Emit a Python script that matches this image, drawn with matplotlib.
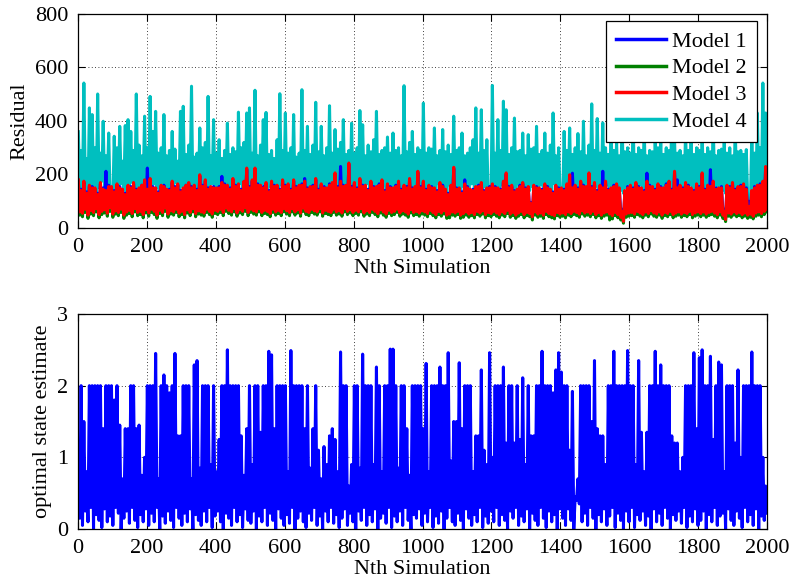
import numpy as np
import matplotlib
matplotlib.use("Agg")
import matplotlib.pyplot as plt

# ---------------- data ----------------
# Each series is stored as its upper samples ("_a") and the interleaved
# lower samples ("_b"); both were estimated from the picture.
model4_a = [
    360, 290, 542, 260, 449, 424, 300, 501, 280, 399, 270, 355, 100, 343, 300, 380, 250, 383, 405, 361, 290, 501, 310, 270, 418,
    300, 492, 361, 436, 280, 300, 424, 270, 290, 361, 295, 250, 436, 455, 275, 310, 530, 265, 280, 374, 300, 320, 492, 270, 405,
    280, 330, 260, 290, 392, 275, 300, 285, 433, 300, 320, 430, 449, 280, 515, 270, 310, 405, 432, 275, 290, 260, 330, 502, 290,
    430, 280, 300, 424, 265, 280, 517, 290, 380, 275, 310, 470, 285, 380, 270, 300, 457, 280, 368, 295, 320, 405, 275, 290, 392,
    280, 300, 439, 386, 270, 310, 285, 330, 436, 275, 290, 300, 340, 280, 355, 290, 300, 270, 532, 285, 320, 361, 275, 300, 290,
    467, 280, 300, 295, 374, 270, 290, 368, 285, 310, 275, 418, 290, 300, 355, 270, 280, 300, 330, 449, 280, 442, 290, 330, 130,
    533, 280, 405, 290, 474, 442, 275, 300, 411, 285, 290, 355, 270, 349, 295, 300, 380, 275, 290, 355, 280, 310, 430, 270, 300,
    100, 361, 290, 374, 275, 300, 353, 285, 399, 270, 310, 464, 290, 409, 280, 393, 300, 275, 380, 290, 320, 270, 410, 285, 300,
    280, 410, 275, 300, 290, 380, 270, 290, 285, 318, 300, 324, 275, 300, 290, 420, 330, 280, 290, 270, 360, 290, 318, 275, 300,
    290, 350, 275, 300, 285, 400, 270, 290, 295, 330, 280, 300, 270, 380, 285, 290, 275, 293, 95, 361, 280, 430, 300, 542, 430,
]
model4_b = [
    150, 130, 170, 110, 140, 160, 125, 150, 175, 135, 160, 120, 100, 145, 130, 165, 140, 120, 155, 170, 135, 150, 125, 160, 140,
    145, 130, 165, 150, 120, 140, 160, 135, 150, 125, 170, 140, 155, 130, 145, 160, 120, 150, 135, 160, 140, 125, 155, 165, 135,
    150, 125, 140, 160, 135, 155, 120, 145, 165, 130, 150, 140, 125, 160, 135, 145, 165, 130, 140, 155, 125, 150, 135, 160, 140,
    130, 155, 140, 120, 150, 165, 135, 145, 125, 160, 140, 150, 130, 165, 135, 120, 155, 140, 145, 125, 160, 135, 150, 130, 145,
    155, 135, 125, 150, 165, 140, 130, 155, 145, 120, 160, 135, 150, 125, 140, 165, 130, 145, 155, 135, 125, 150, 140, 160, 130,
    140, 155, 125, 150, 135, 165, 130, 145, 120, 160, 140, 150, 125, 135, 155, 130, 145, 165, 135, 150, 125, 140, 155, 110, 100,
    135, 150, 125, 160, 140, 130, 155, 145, 120, 165, 135, 150, 130, 140, 155, 125, 145, 160, 135, 150, 130, 140, 165, 125, 145,
    100, 150, 135, 125, 160, 140, 150, 130, 145, 165, 135, 125, 155, 140, 150, 130, 160, 135, 145, 125, 155, 140, 130, 150, 135,
    150, 135, 125, 160, 140, 145, 130, 155, 135, 150, 125, 140, 160, 130, 145, 135, 155, 125, 150, 140, 130, 160, 135, 145, 125,
    140, 155, 130, 145, 135, 160, 125, 150, 140, 130, 155, 135, 145, 125, 150, 140, 130, 110, 90, 135, 125, 150, 140, 155, 145,
]
model3_a = [
    180, 140, 175, 130, 160, 150, 150, 125, 170, 145, 140, 155, 155, 135, 165, 150, 145, 125, 160, 150, 170, 140, 150, 160, 180,
    145, 185, 150, 150, 130, 160, 155, 145, 140, 175, 150, 165, 135, 150, 160, 170, 150, 160, 140, 199, 155, 180, 145, 155, 150,
    150, 150, 170, 160, 160, 145, 185, 155, 165, 140, 175, 224, 150, 180, 224, 160, 160, 150, 170, 135, 175, 155, 160, 140, 180,
    155, 165, 140, 180, 150, 160, 160, 175, 145, 155, 155, 185, 140, 165, 150, 150, 160, 170, 206, 150, 175, 155, 160, 243, 150,
    170, 145, 185, 155, 160, 140, 175, 150, 155, 160, 180, 135, 165, 150, 150, 155, 175, 140, 160, 150, 185, 145, 155, 212, 150,
    175, 140, 160, 150, 150, 135, 170, 155, 145, 125, 160, 227, 145, 150, 130, 165, 150, 145, 140, 155, 155, 170, 135, 150, 150,
    165, 150, 150, 140, 175, 206, 150, 160, 135, 145, 155, 170, 145, 155, 90, 160, 150, 150, 140, 165, 150, 145, 130, 160, 145,
    150, 140, 165, 199, 150, 160, 145, 175, 155, 155, 206, 150, 170, 135, 160, 150, 175, 140, 150, 155, 165, 150, 60, 140, 150,
    160, 145, 170, 150, 150, 135, 175, 155, 155, 140, 165, 150, 150, 160, 175, 140, 212, 150, 160, 145, 170, 155, 150, 135, 165,
    150, 206, 140, 160, 155, 175, 145, 150, 150, 60, 160, 150, 170, 140, 155, 155, 165, 145, 80, 140, 150, 160, 160, 175, 230,
]
model3_b = [
    60, 55, 70, 48, 65, 58, 72, 50, 62, 68, 55, 75, 52, 64, 58, 70, 48, 60, 66, 54, 72, 58, 62, 50, 68,
    56, 70, 62, 48, 66, 58, 74, 52, 64, 60, 70, 55, 62, 50, 68, 58, 72, 54, 64, 60, 56, 70, 62, 52, 66,
    62, 70, 58, 74, 66, 60, 72, 56, 68, 62, 75, 58, 70, 64, 60, 72, 58, 66, 62, 54, 70, 60, 66, 58, 72,
    64, 58, 72, 60, 68, 56, 74, 62, 58, 70, 64, 60, 72, 56, 66, 62, 58, 70, 60, 64, 56, 72, 62, 68, 58,
    66, 60, 72, 56, 64, 58, 70, 62, 54, 68, 60, 52, 66, 58, 62, 70, 56, 64, 60, 52, 68, 58, 62, 56, 64,
    60, 54, 66, 58, 50, 62, 56, 64, 48, 52, 60, 56, 62, 48, 54, 60, 52, 58, 50, 62, 56, 64, 50, 58, 54,
    62, 56, 50, 60, 54, 66, 52, 58, 48, 56, 62, 50, 58, 54, 42, 60, 52, 56, 48, 62, 54, 50, 46, 58, 52,
    56, 50, 60, 54, 62, 58, 52, 64, 56, 60, 54, 62, 50, 58, 48, 56, 60, 52, 46, 58, 50, 40, 25, 52, 56,
    58, 52, 62, 56, 50, 60, 54, 64, 56, 52, 60, 48, 58, 54, 62, 50, 56, 60, 52, 58, 54, 62, 50, 56, 60,
    54, 60, 52, 58, 62, 56, 50, 60, 48, 32, 56, 52, 60, 54, 58, 50, 56, 48, 52, 44, 56, 60, 54, 62, 70,
]
model2_a = [
    130, 100, 120, 95, 115, 105, 110, 95, 125, 100, 105, 110, 115, 95, 120, 105, 110, 90, 118, 105, 125, 100, 110, 110, 130,
    100, 135, 105, 112, 95, 120, 110, 108, 95, 128, 105, 122, 95, 110, 110, 125, 105, 118, 100, 140, 110, 130, 100, 115, 105,
    112, 105, 125, 110, 118, 100, 135, 110, 120, 95, 128, 150, 105, 130, 155, 110, 118, 105, 125, 90, 128, 110, 118, 95, 130,
    110, 120, 95, 130, 105, 118, 110, 128, 100, 112, 110, 135, 95, 120, 105, 110, 110, 125, 145, 100, 128, 110, 118, 160, 105,
    125, 100, 135, 110, 118, 95, 128, 105, 112, 110, 130, 90, 120, 100, 110, 110, 128, 95, 118, 105, 135, 100, 112, 150, 100,
    128, 95, 118, 105, 110, 85, 125, 110, 105, 85, 118, 160, 100, 110, 85, 120, 105, 105, 95, 112, 110, 125, 90, 110, 100,
    120, 105, 110, 95, 128, 150, 100, 118, 90, 105, 110, 125, 100, 112, 70, 118, 100, 110, 95, 120, 105, 105, 85, 118, 100,
    110, 95, 120, 145, 105, 118, 100, 128, 110, 112, 150, 100, 125, 90, 118, 105, 128, 95, 110, 110, 120, 110, 45, 100, 100,
    118, 100, 125, 105, 110, 90, 128, 110, 112, 95, 120, 100, 110, 110, 128, 95, 155, 105, 118, 100, 125, 110, 110, 90, 120,
    105, 150, 95, 118, 110, 128, 100, 110, 105, 50, 118, 100, 125, 95, 112, 110, 120, 100, 70, 100, 100, 118, 110, 128, 100,
]
model2_b = [
    48, 42, 58, 36, 52, 46, 60, 38, 50, 56, 44, 62, 40, 52, 46, 58, 36, 48, 54, 42, 60, 46, 50, 38, 56,
    44, 58, 50, 36, 54, 46, 62, 40, 52, 48, 58, 42, 50, 38, 56, 46, 60, 42, 52, 48, 44, 58, 50, 40, 54,
    50, 58, 46, 62, 54, 48, 60, 44, 56, 50, 62, 46, 58, 52, 48, 60, 46, 54, 50, 42, 58, 48, 54, 46, 60,
    52, 46, 60, 48, 56, 44, 62, 50, 46, 58, 52, 48, 60, 44, 54, 50, 46, 58, 48, 52, 44, 60, 50, 56, 46,
    54, 48, 60, 44, 52, 46, 58, 50, 42, 56, 48, 40, 54, 46, 50, 58, 44, 52, 48, 40, 56, 46, 50, 44, 52,
    48, 42, 54, 46, 38, 50, 44, 52, 36, 38, 48, 44, 50, 36, 40, 48, 40, 46, 38, 50, 44, 52, 38, 46, 42,
    50, 44, 38, 48, 42, 54, 40, 46, 36, 44, 50, 38, 46, 42, 30, 48, 40, 44, 36, 50, 42, 38, 34, 46, 40,
    44, 38, 48, 42, 50, 46, 40, 52, 44, 48, 42, 50, 38, 46, 36, 44, 48, 30, 34, 46, 38, 30, 18, 40, 44,
    46, 40, 50, 44, 38, 48, 42, 52, 44, 40, 48, 36, 46, 42, 50, 38, 44, 48, 40, 46, 42, 50, 38, 44, 48,
    42, 48, 40, 46, 50, 44, 38, 48, 36, 24, 44, 40, 48, 42, 46, 38, 44, 36, 40, 34, 44, 48, 42, 50, 60,
]
model1_a = [
    175, 145, 170, 135, 155, 155, 145, 130, 165, 150, 212, 160, 150, 140, 160, 155, 140, 130, 155, 155, 165, 145, 145, 160, 175,
    224, 180, 155, 145, 135, 155, 160, 140, 145, 170, 155, 160, 140, 145, 160, 165, 155, 155, 145, 194, 160, 175, 150, 150, 155,
    145, 155, 193, 165, 155, 150, 180, 160, 160, 145, 170, 219, 155, 175, 219, 165, 155, 155, 165, 140, 170, 160, 155, 145, 175,
    160, 160, 145, 175, 155, 155, 165, 185, 150, 150, 160, 180, 145, 160, 155, 145, 165, 165, 201, 155, 230, 160, 155, 238, 155,
    165, 150, 180, 160, 155, 145, 170, 155, 150, 165, 175, 140, 160, 155, 145, 160, 170, 145, 155, 155, 180, 150, 150, 207, 155,
    170, 145, 155, 155, 145, 140, 165, 160, 140, 130, 155, 222, 150, 145, 135, 180, 155, 140, 145, 150, 160, 165, 140, 145, 155,
    160, 155, 145, 145, 170, 201, 155, 155, 140, 140, 160, 165, 150, 150, 95, 155, 155, 145, 145, 160, 155, 140, 135, 155, 150,
    145, 145, 160, 194, 205, 155, 150, 170, 160, 150, 201, 155, 165, 140, 155, 212, 170, 145, 145, 160, 160, 145, 70, 135, 155,
    155, 150, 165, 155, 145, 140, 205, 160, 150, 145, 160, 155, 145, 165, 170, 145, 207, 180, 155, 150, 165, 160, 145, 140, 160,
    155, 201, 145, 155, 218, 170, 150, 145, 155, 70, 155, 155, 165, 145, 150, 160, 160, 150, 100, 135, 155, 155, 165, 170, 225,
]
model1_b = [
    75, 70, 82, 66, 78, 72, 85, 68, 76, 80, 70, 86, 68, 78, 72, 82, 66, 74, 80, 70, 84, 72, 76, 68, 80,
    72, 82, 76, 66, 80, 72, 86, 68, 78, 74, 82, 70, 76, 66, 80, 72, 84, 70, 78, 74, 72, 82, 76, 68, 80,
    76, 82, 72, 86, 80, 74, 84, 70, 80, 76, 86, 72, 82, 78, 74, 84, 72, 80, 76, 70, 82, 74, 80, 72, 84,
    78, 72, 84, 74, 80, 70, 86, 76, 72, 82, 78, 74, 84, 70, 80, 76, 72, 82, 74, 78, 70, 84, 76, 80, 72,
    80, 74, 84, 70, 78, 72, 82, 76, 68, 80, 74, 66, 78, 72, 76, 82, 70, 78, 74, 66, 80, 72, 76, 70, 78,
    74, 68, 80, 72, 64, 76, 70, 78, 62, 66, 74, 70, 76, 62, 68, 74, 66, 72, 64, 76, 70, 78, 64, 72, 68,
    76, 70, 64, 74, 68, 80, 66, 72, 62, 70, 76, 64, 72, 68, 56, 74, 66, 70, 62, 76, 68, 64, 60, 72, 66,
    70, 64, 74, 68, 76, 72, 66, 78, 70, 74, 68, 76, 64, 72, 62, 70, 74, 66, 60, 72, 64, 56, 35, 66, 70,
    72, 66, 76, 70, 64, 74, 68, 78, 70, 66, 74, 62, 72, 68, 76, 64, 70, 74, 66, 72, 68, 76, 64, 70, 74,
    68, 74, 66, 72, 76, 70, 64, 74, 62, 40, 70, 66, 74, 68, 72, 64, 70, 62, 66, 58, 70, 74, 68, 76, 82,
]
state_a = [
    0.62, 2.0, 1.5, 0.8, 2.0, 2.0, 2.0, 2.0, 2.0, 1.4, 2.0, 2.0, 2.0, 1.8, 2.0, 1.45, 0.7, 1.4, 1.4, 2.0, 2.0, 1.4, 1.45, 0.75, 1.0,
    2.0, 2.0, 2.0, 2.45, 0.7, 2.0, 2.15, 2.0, 1.9, 2.0, 2.45, 1.3, 1.3, 2.0, 2.0, 2.0, 0.7, 2.29, 2.35, 0.85, 2.0, 2.0, 2.0, 0.9, 2.0,
    0.8, 1.25, 2.0, 2.0, 2.5, 2.0, 2.0, 2.0, 2.0, 1.3, 0.75, 1.4, 2.0, 0.9, 2.0, 2.0, 1.35, 2.0, 2.0, 2.48, 2.43, 1.4, 2.0, 2.0, 2.0,
    2.0, 0.8, 2.49, 2.0, 2.0, 2.0, 2.0, 1.4, 2.0, 0.85, 1.4, 2.0, 1.1, 0.7, 1.15, 0.9, 1.3, 1.4, 1.25, 0.8, 2.47, 2.0, 2.0, 0.6, 0.9,
    2.0, 2.0, 0.85, 2.44, 2.0, 2.0, 2.0, 0.9, 2.26, 2.0, 0.8, 2.0, 2.0, 2.51, 2.51, 2.0, 0.85, 2.0, 2.0, 1.4, 0.75, 2.0, 2.0, 2.0, 2.0,
    1.4, 2.31, 0.8, 2.0, 2.0, 2.0, 2.26, 2.0, 2.0, 2.46, 0.95, 1.5, 1.5, 2.32, 1.4, 2.0, 2.0, 2.0, 0.8, 1.3, 1.3, 2.22, 1.1, 0.9, 2.46,
    1.0, 2.0, 2.0, 2.0, 2.26, 1.2, 2.0, 2.0, 1.2, 2.0, 1.25, 2.11, 0.9, 2.0, 1.3, 1.3, 2.0, 2.0, 2.48, 2.0, 2.0, 2.0, 1.9, 2.22, 2.46,
    2.19, 2.0, 2.0, 1.1, 1.92, 0.45, 0.7, 2.0, 2.0, 2.0, 2.0, 1.5, 2.35, 1.4, 1.3, 1.3, 0.9, 2.0, 2.0, 2.48, 2.0, 2.0, 2.0, 2.0, 2.49,
    2.0, 2.0, 0.9, 2.35, 1.35, 0.8, 1.35, 2.0, 2.0, 2.48, 2.0, 2.29, 2.0, 2.0, 2.0, 1.3, 1.2, 1.2, 0.8, 1.0, 2.0, 2.0, 2.0, 2.46, 1.4,
    2.39, 2.5, 2.0, 2.0, 2.41, 1.25, 2.0, 2.33, 2.29, 0.8, 2.0, 2.0, 2.0, 1.2, 2.22, 1.0, 2.0, 2.0, 2.0, 2.47, 2.0, 2.0, 2.0, 1.0, 0.6,
]
state_b = [
    0.15, 0.05, 0.25, 0.1, 0.3, 0.0, 0.2, 0.12, 0.02, 0.28, 0.1, 0.18, 0.05, 0.3, 0.22, 0.0, 0.15, 0.25, 0.08, 0.3, 0.12, 0.02, 0.2, 0.1, 0.28,
    0.05, 0.22, 0.1, 0.3, 0.0, 0.18, 0.08, 0.25, 0.12, 0.02, 0.3, 0.15, 0.05, 0.22, 0.1, 0.28, 0.0, 0.2, 0.12, 0.05, 0.25, 0.1, 0.3, 0.02, 0.18,
    0.25, 0.1, 0.0, 0.22, 0.15, 0.05, 0.3, 0.1, 0.2, 0.02, 0.28, 0.12, 0.08, 0.25, 0.0, 0.18, 0.1, 0.3, 0.05, 0.22, 0.12, 0.0, 0.28, 0.15, 0.05,
    0.2, 0.08, 0.3, 0.0, 0.15, 0.25, 0.1, 0.02, 0.22, 0.12, 0.3, 0.05, 0.18, 0.0, 0.25, 0.1, 0.3, 0.08, 0.2, 0.02, 0.15, 0.28, 0.05, 0.22, 0.1,
    0.0, 0.25, 0.12, 0.3, 0.05, 0.2, 0.1, 0.28, 0.0, 0.15, 0.22, 0.08, 0.3, 0.02, 0.18, 0.1, 0.25, 0.05, 0.3, 0.12, 0.0, 0.2, 0.15, 0.28, 0.05,
    0.22, 0.1, 0.3, 0.02, 0.18, 0.08, 0.25, 0.0, 0.15, 0.3, 0.1, 0.05, 0.22, 0.12, 0.0, 0.28, 0.15, 0.05, 0.2, 0.1, 0.3, 0.02, 0.18, 0.08, 0.25,
    0.1, 0.3, 0.05, 0.2, 0.12, 0.0, 0.25, 0.15, 0.3, 0.05, 0.18, 0.1, 0.28, 0.0, 0.22, 0.12, 0.05, 0.3, 0.15, 0.02, 0.25, 0.1, 0.2, 0.0, 0.28,
    0.15, 0.05, 0.28, 0.12, 0.0, 0.4, 0.35, 0.1, 0.22, 0.05, 0.3, 0.15, 0.0, 0.2, 0.1, 0.28, 0.05, 0.18, 0.3, 0.02, 0.22, 0.12, 0.0, 0.25, 0.1,
    0.3, 0.02, 0.2, 0.12, 0.25, 0.05, 0.18, 0.0, 0.28, 0.1, 0.22, 0.05, 0.3, 0.15, 0.0, 0.2, 0.12, 0.25, 0.08, 0.3, 0.02, 0.18, 0.1, 0.28, 0.05,
    0.12, 0.25, 0.0, 0.2, 0.1, 0.3, 0.05, 0.18, 0.22, 0.0, 0.28, 0.12, 0.05, 0.25, 0.15, 0.02, 0.3, 0.1, 0.2, 0.05, 0.28, 0.0, 0.18, 0.12, 0.22,
]
legend_labels = ["Model 1", "Model 2", "Model 3", "Model 4"]
x_ticks = [0, 200, 400, 600, 800, 1000, 1200, 1400, 1600, 1800, 2000]
y_ticks_top = [0, 200, 400, 600, 800]
y_ticks_bot = [0, 1, 2, 3]


def interleave(a, b):
    out = np.empty(len(a) + len(b))
    out[0::2] = a
    out[1::2] = b
    return out


model1 = interleave(model1_a, model1_b)
model2 = interleave(model2_a, model2_b)
model3 = interleave(model3_a, model3_b)
model4 = interleave(model4_a, model4_b)
state_est = interleave(state_a, state_b)
sim = np.linspace(1, 2000, len(model4))

# ---------------- style ----------------
plt.rcParams["font.family"] = ["Liberation Serif", "DejaVu Serif"]
FS = 16
plt.rcParams["font.size"] = FS

colors = {"Model 1": "#0000ff", "Model 2": "#008000",
          "Model 3": "#ff0000", "Model 4": "#00bfbf"}
LW = 2.2

fig = plt.figure(figsize=(7.93, 5.82), dpi=100)
ax1 = fig.add_axes([78 / 793, 1 - 228 / 582, 689 / 793, 214 / 582])
ax2 = fig.add_axes([78 / 793, 1 - 529 / 582, 689 / 793, 215 / 582])


def style(ax):
    ax.set_axisbelow(True)
    ax.grid(True, linestyle=(0, (1, 3)), color="black", linewidth=0.6)
    ax.tick_params(direction="in", top=True, right=True, length=5, width=0.8,
                   labelsize=FS, pad=7)
    for s in ax.spines.values():
        s.set_linewidth(0.9)
        s.set_zorder(10)
    ax.set_xlim(0, 2000)
    ax.set_xticks(x_ticks)


series = {"Model 1": model1, "Model 2": model2, "Model 3": model3, "Model 4": model4}
zorders = {"Model 4": 2, "Model 1": 3, "Model 2": 4, "Model 3": 5}
handles = []
for lab in legend_labels:
    h, = ax1.plot(sim, series[lab], color=colors[lab], lw=LW, label=lab,
                  zorder=zorders[lab])
    handles.append(h)
ax1.set_ylim(0, 800)
ax1.set_yticks(y_ticks_top)
style(ax1)
ax1.set_xlabel("Nth Simulation", fontsize=FS, labelpad=2)
ax1.set_ylabel("Residual", fontsize=FS, labelpad=4)
leg = ax1.legend(handles=handles, loc="upper right", fontsize=FS, frameon=True,
                 fancybox=False, framealpha=1, edgecolor="black",
                 handlelength=2.25, borderpad=0.45, labelspacing=0.28,
                 handletextpad=0.3, borderaxespad=0,
                 bbox_to_anchor=(0.9855, 0.967))
leg.set_zorder(20)
leg.get_frame().set_linewidth(0.9)
for h in leg.get_lines():
    h.set_linewidth(2.5)

ax2.plot(sim, state_est, color="#0000ff", lw=LW, zorder=3)
ax2.set_ylim(0, 3)
ax2.set_yticks(y_ticks_bot)
style(ax2)
ax2.set_xlabel("Nth Simulation", fontsize=FS, labelpad=2)
ax2.set_ylabel("optimal state estimate", fontsize=FS, labelpad=4)

fig.savefig("out.png", dpi=100)
